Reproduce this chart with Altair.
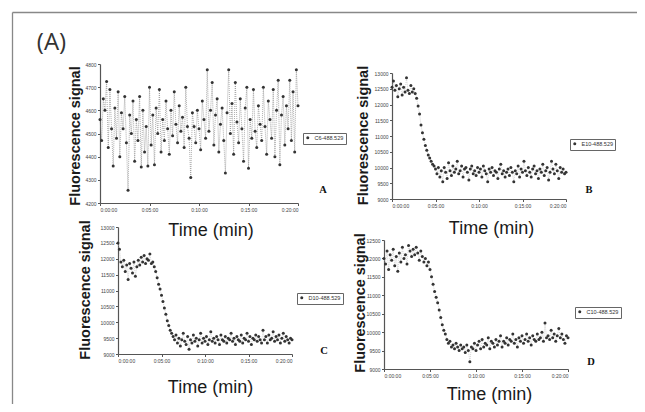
import altair as alt
import pandas as pd

# ---------------- data ----------------
STEP_MIN = 1 / 6  # one reading every 10 s, 0..20 min

C6 = [
    4560, 4470, 4650, 4600, 4725, 4440, 4690, 4520, 4360, 4610,
    4480, 4680, 4400, 4590, 4520, 4660, 4460, 4255, 4580, 4500,
    4640, 4380, 4560, 4470, 4660, 4355, 4600, 4420, 4530, 4360,
    4700, 4450, 4580, 4365, 4610, 4500, 4690, 4420, 4560, 4470,
    4640, 4520, 4410, 4600, 4490, 4680, 4540, 4460, 4620, 4510,
    4570, 4440, 4700, 4530, 4480, 4310, 4590, 4530, 4460, 4600,
    4520, 4430, 4640, 4560, 4480, 4775, 4510, 4600, 4720, 4450,
    4580, 4650, 4420, 4540, 4610, 4470, 4330, 4590, 4775, 4500,
    4630, 4410, 4720, 4550, 4460, 4650, 4520, 4380, 4610, 4700,
    4350, 4560, 4480, 4690, 4510, 4440, 4620, 4540, 4470, 4700,
    4530, 4410, 4640, 4560, 4480, 4690, 4400, 4600, 4730, 4365,
    4580, 4660, 4450, 4620, 4520, 4730, 4470, 4680, 4420, 4775,
    4620,
]

E10 = [
    12550, 12750, 12450, 12600, 12250, 12500, 12650, 12300, 12550, 12400,
    12850, 12450, 12350, 12600, 12400, 12500, 12350, 12200, 11950, 11700,
    11350, 11100, 10900, 10700, 10550, 10400, 10300, 10200, 10100, 10050,
    9950, 9800, 10000, 9700, 9900, 9550, 10000, 9850, 9650, 10150,
    9900, 9750, 10050, 9850, 9950, 10200, 9800, 9900, 10050, 9700,
    9950, 10000, 9850, 9600, 9950, 10050, 9800, 9900, 9750, 10000,
    9850, 9950, 9700, 10050, 9900, 9800, 9550, 9950, 9850, 10000,
    9750, 9900, 9850, 9650, 9950, 10100, 9800, 9900, 9700, 9850,
    9950, 9750, 10000, 9850, 9550, 9900, 9800, 10050, 9700, 9950,
    9850, 10200, 9900, 9750, 10000, 9850, 9700, 9950, 10050, 9800,
    9900, 9650, 9950, 9850, 10100, 9750, 9900, 10000, 9600, 9850,
    10200, 9950, 9800, 10100, 9900, 9650, 10000, 9850, 9950, 9800,
    9850,
]

D10 = [
    12500, 12300, 11900, 11750, 11950, 11600, 11800, 11350, 11850, 11700,
    11550, 11900, 11450, 11750, 11950, 11800, 12050, 11900, 12100, 11850,
    12000, 11950, 12150, 11850, 11900, 11750, 11600, 11400, 11200, 11050,
    10850, 10650, 10450, 10250, 10050, 9900, 9750, 9650, 9550, 9450,
    9600, 9350, 9500, 9250, 9450, 9650, 9400, 9300, 9550, 9150,
    9450, 9350, 9600, 9400, 9500, 9250, 9450, 9650, 9350, 9500,
    9400, 9550, 9300, 9450, 9700, 9400, 9500, 9350, 9550, 9450,
    9300, 9600, 9450, 9400, 9550, 9350, 9500, 9450, 9650, 9400,
    9500, 9300, 9550, 9450, 9400, 9600, 9350, 9500, 9450, 9650,
    9400, 9550, 9300, 9500, 9450, 9600, 9400, 9550, 9450, 9350,
    9750, 9450, 9550, 9350, 9600, 9450, 9500, 9700, 9400, 9550,
    9450, 9600, 9350, 9500, 9650, 9400, 9550, 9450, 9350, 9500,
    9450,
]

C10 = [
    12000, 11850, 12200, 11700, 12100, 11950, 12250, 11800, 12050, 11650,
    12150, 11900, 12300, 12000, 12100, 11850, 12350, 12200, 12050, 12250,
    12100, 12300, 12150, 11950, 12200, 12050, 11900, 12000, 11800, 11900,
    11700, 11500, 11300, 11100, 10950, 10800, 10600, 10400, 10200, 10050,
    9950, 9800, 9700, 9750, 9600, 9650, 9550, 9700, 9600, 9500,
    9650, 9550, 9600, 9450, 9650, 9500, 9200, 9600, 9550, 9700,
    9500, 9650, 9750, 9550, 9800, 9600, 9700, 9650, 9850, 9550,
    9750, 9700, 9600, 9800, 9650, 9750, 9900, 9600, 9750, 9700,
    9850, 9650, 9800, 9750, 9950, 9700, 9800, 9600, 9850, 9750,
    9900, 9700, 9800, 9950, 9750, 9850, 9650, 9900, 9800, 9750,
    9950, 9800, 9850, 10000, 9750, 10250, 9850, 9900, 9800, 10050,
    9850, 9950, 9750, 9900, 10100, 9850, 9950, 9800, 9700, 9900,
    9850,
]

SERIES_NAMES = ["C6-488.529", "E10-488.529", "D10-488.529", "C10-488.529"]
PANEL_LETTERS = ["A", "B", "C", "D"]
X_TICKS = [0, 5, 10, 15, 20]

# ---------------- layout ----------------
W, H = 629, 396
SANS = "Liberation Sans"
INK = "#1a1a1a"
AX = "#555555"


def frame(vals, name):
    return pd.DataFrame({
        "t": [i * STEP_MIN for i in range(len(vals))],
        "v": vals,
        "series": [name] * len(vals),
    })


def panel(vals, name, xr, yr, ydom, ystep, xt, yt, legxy, line_color, line_w):
    df = frame(vals, name)
    x = alt.X(
        "t:Q",
        scale=alt.Scale(domain=[0, 20], range=xr, nice=False, zero=False),
        axis=alt.Axis(
            orient="bottom", offset=yr[0] - H, values=X_TICKS,
            labelExpr="'0:' + (datum.value < 10 ? '0' : '') + datum.value + ':00'",
            title="Time (min)", titleX=xt[0], titleY=xt[1],
            titleAlign="center", titleBaseline="alphabetic",
            titleFont=SANS, titleFontSize=18, titleFontWeight="normal", titleColor=INK,
            labelFont=SANS, labelFontSize=5, labelColor="#444", labelPadding=1.5,
            tickSize=2.5, tickColor=AX, domainColor=AX, domainWidth=1.2, grid=False,
        ),
    )
    y = alt.Y(
        "v:Q",
        scale=alt.Scale(domain=ydom, range=yr, nice=False, zero=False),
        axis=alt.Axis(
            orient="left", offset=-xr[0], format="d",
            values=list(range(ydom[0], ydom[1] + 1, ystep)),
            title="Fluorescence signal", titleX=yt[0], titleY=yt[1],
            titleAlign="center", titleBaseline="alphabetic", titleAngle=270,
            titleFont=SANS, titleFontSize=14.5, titleFontWeight="bold", titleColor=INK,
            labelFont=SANS, labelFontSize=5, labelColor="#444", labelPadding=1.5,
            tickSize=2.5, tickColor=AX, domainColor=AX, domainWidth=1.2, grid=False,
        ),
    )
    base = alt.Chart(df)
    line = base.mark_line(color=line_color, strokeWidth=line_w, strokeDash=[1, 1]).encode(x=x, y=y)
    pts = base.mark_circle(size=9, opacity=1).encode(
        x=x, y=y,
        color=alt.Color(
            "series:N",
            scale=alt.Scale(domain=[name], range=["#333333"]),
            legend=alt.Legend(
                orient="none", legendX=legxy[0], legendY=legxy[1], title=None,
                labelFont=SANS, labelFontSize=5.5, labelColor="#333", labelOffset=4,
                symbolType="circle", symbolSize=9, symbolStrokeWidth=0,
                symbolFillColor="#333", padding=2, strokeColor="#666",
                fillColor="white",
            ),
        ),
    )
    return alt.layer(line, pts)


one = pd.DataFrame({"k": [0]})

border_top = alt.Chart(one).mark_rule(color="#888", strokeWidth=1.3).encode(
    x=alt.value(4.5), x2=alt.value(W), y=alt.value(4.5))
border_left = alt.Chart(one).mark_rule(color="#888", strokeWidth=1.3).encode(
    x=alt.value(4.5), y=alt.value(4.5), y2=alt.value(H))

big_label = alt.Chart(one).mark_text(
    text="(A)", font="Open Sans", fontSize=24, color="#333", align="center", baseline="alphabetic"
).encode(x=alt.value(43.5), y=alt.value(42))

letter_pos = [(315, 182), (581, 182), (316, 343), (583, 354)]
letters = [
    alt.Chart(one).mark_text(
        text=L, font="Liberation Serif", fontSize=10.5, fontWeight="bold", color="#111",
        align="center", baseline="middle"
    ).encode(x=alt.value(p[0]), y=alt.value(p[1]))
    for L, p in zip(PANEL_LETTERS, letter_pos)
]

pA = panel(C6, SERIES_NAMES[0], [92, 290], [195, 56], [4200, 4800], 100,
           (202.5, 32), (-21, 127.5), (295, 125), "#8a8a8a", 0.7)
pB = panel(E10, SERIES_NAMES[1], [384, 558], [191, 65], [9000, 13000], 500,
           (483, 34), (-25, 127), (562, 131), "#b8b8b8", 0.6)
pC = panel(D10, SERIES_NAMES[2], [110, 284], [346, 219], [9000, 13000], 500,
           (202, 38), (-29, 281.5), (289, 285), "#b8b8b8", 0.6)
pD = panel(C10, SERIES_NAMES[3], [376, 560], [361, 232], [9000, 12500], 500,
           (481, 30), (-20, 294.5), (567, 299), "#b8b8b8", 0.6)

chart = alt.layer(
    border_top, border_left, big_label, pA, pB, pC, pD, *letters
).resolve_scale(
    x="independent", y="independent", color="independent"
).properties(
    width=W, height=H, padding=0, autosize=alt.AutoSizeParams(type="none")
).configure_view(stroke=None)

chart.save("out.html", embed_options={"renderer": "svg", "actions": False})
